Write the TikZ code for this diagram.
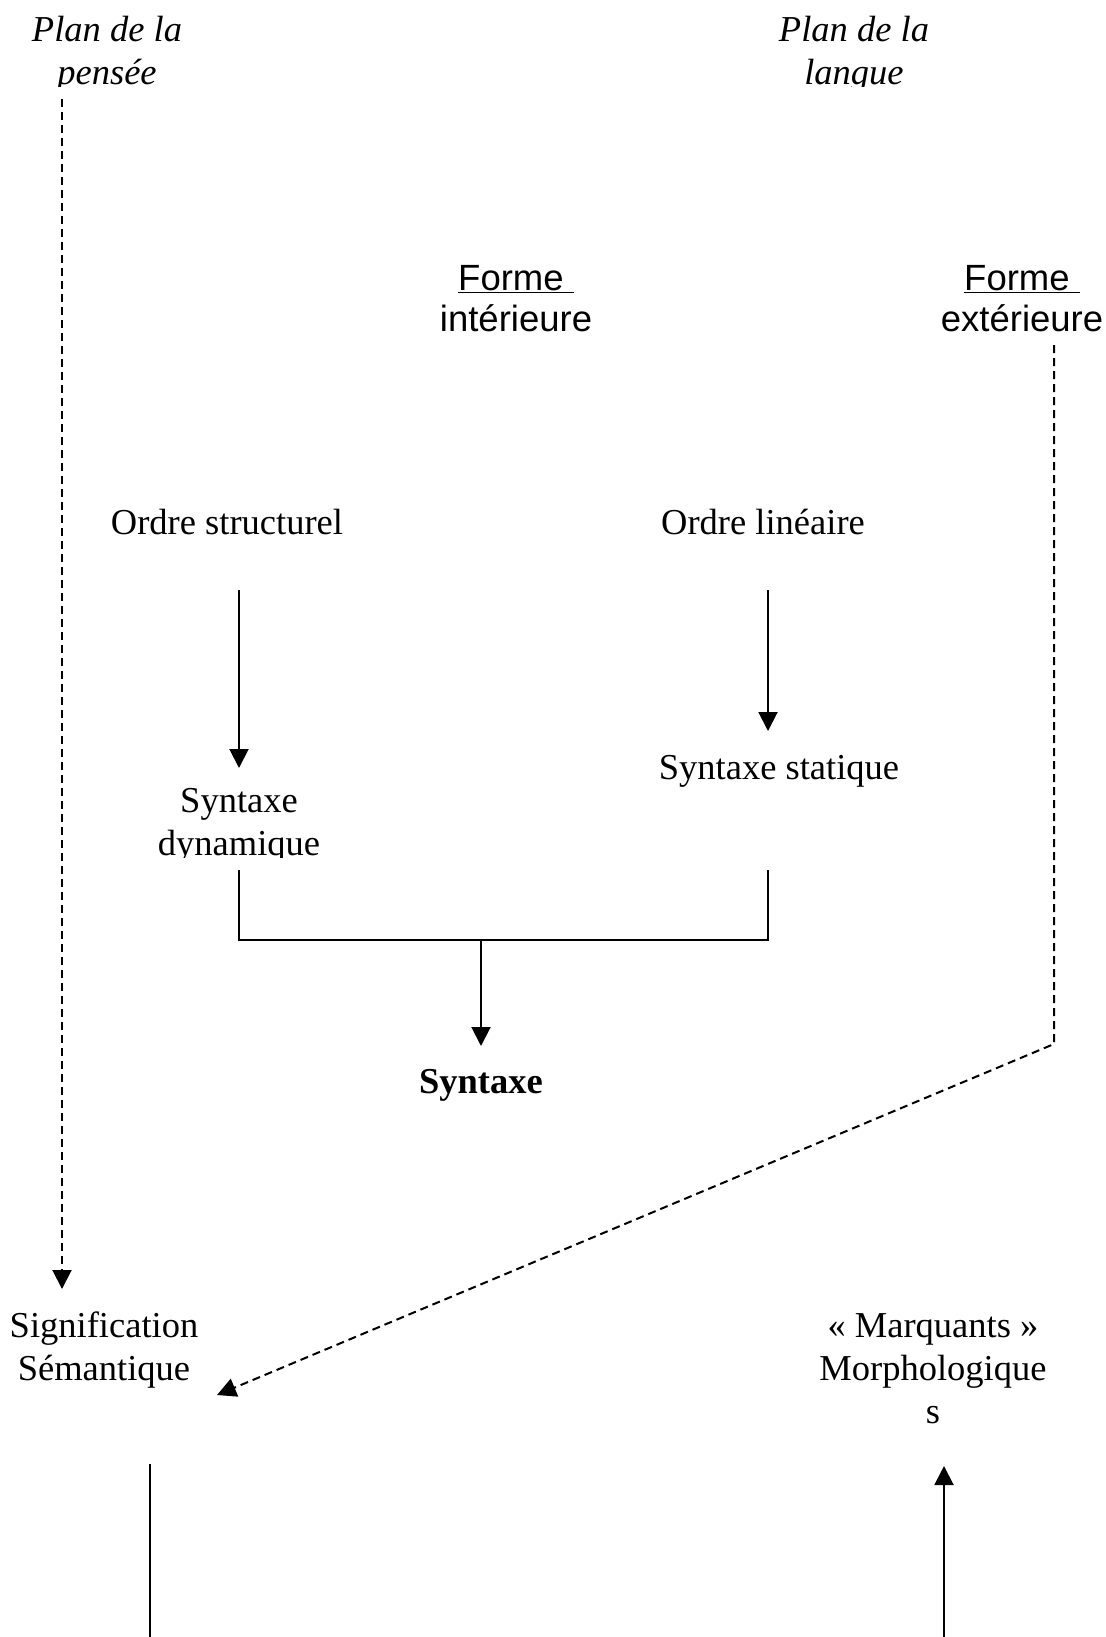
\documentclass[tikz,border=0pt]{standalone}
\usepackage{fontspec}
\setmainfont{Liberation Serif}
\setsansfont{Liberation Sans}
\usetikzlibrary{arrows.meta}
\tikzset{
  lbl/.style={inner sep=0pt, anchor=base, align=center, font=\fontsize{36.5}{43}\selectfont},
  slbl/.style={inner sep=0pt, anchor=base, align=center, font=\fontsize{36.5}{41}\selectfont\sffamily},
  ln/.style={line width=2pt},
  arr/.style={-{Triangle[length=19pt,width=19pt]}},
  dsh/.style={dash pattern=on 8pt off 5pt}
}
\begin{document}
\begin{tikzpicture}[x=1pt,y=-1pt]
\useasboundingbox[fill=white] (0,0) rectangle (1105,1637);
% top labels, clipped at their bottom as in the reference
\begin{scope}
\clip (0,0) rectangle (1105,87);
\node[lbl] (pensee) at (107,85) {\itshape Plan de la\\\itshape pensée};
\node[lbl] (langue) at (854,85) {\itshape Plan de la\\\itshape langue};
\end{scope}
\node[slbl] (fint) at (516,331) {\underline{Forme\ }\\intérieure};
\node[slbl] (fext) at (1022,331) {\underline{Forme\ }\\extérieure};
\node[lbl] (ostruct) at (227,534) {Ordre structurel};
\node[lbl] (olin) at (763,534) {Ordre linéaire};
\node[lbl] (sstat) at (779,779) {Syntaxe statique};
\begin{scope}
\clip (0,0) rectangle (1105,857);
\node[lbl] (sdyn) at (239,855) {Syntaxe\\dynamique};
\end{scope}
\node[lbl] (syn) at (481,1093) {\bfseries Syntaxe};
\node[lbl] (signif) at (104,1380) {Signification\\Sémantique};
\node[lbl] (marq) at (933,1423) {« Marquants »\\Morphologique\\s};
% coordinates for connector ends
\coordinate (pA) at (62,99);
\coordinate (pB) at (62,1289);
\coordinate (eA) at (1054,345);
\coordinate (eB) at (1054,1044);
\coordinate (eC) at (217,1395);
\coordinate (osA) at (239,590);
\coordinate (osB) at (239,768);
\coordinate (olA) at (768,590);
\coordinate (olB) at (768,731);
\coordinate (bL) at (239,870);
\coordinate (bLc) at (239,940);
\coordinate (bR) at (768,870);
\coordinate (bRc) at (768,940);
\coordinate (bM) at (481,940);
\coordinate (bMt) at (481,1046);
\coordinate (lsA) at (150,1464);
\coordinate (lsB) at (150,1637);
\coordinate (rsA) at (944,1637);
\coordinate (rsB) at (944,1466);
% connectors
\draw[ln,dsh,arr] (pA) -- (pB);
\draw[ln,dsh,arr] (eA) -- (eB) -- (eC);
\draw[ln,arr] (osA) -- (osB);
\draw[ln,arr] (olA) -- (olB);
\draw[ln] (bL) -- (bLc) -- (bRc) -- (bR);
\draw[ln,arr] (bM) -- (bMt);
\draw[ln] (lsA) -- (lsB);
\draw[ln,arr] (rsA) -- (rsB);
\end{tikzpicture}
\end{document}
